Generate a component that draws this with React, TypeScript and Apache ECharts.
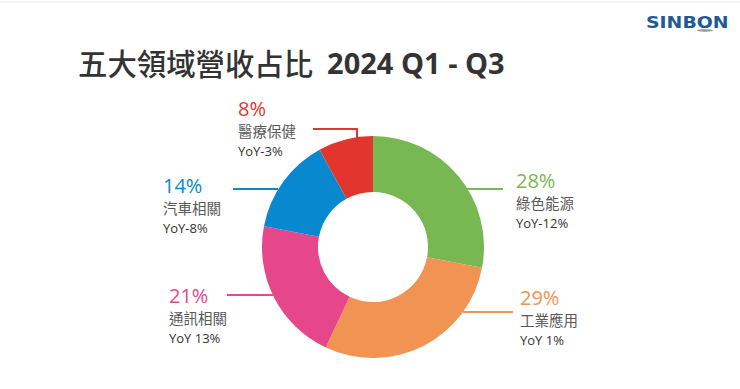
import React, { useEffect, useRef } from "react";
import * as echarts from "echarts";

const categories = ["綠色能源", "工業應用", "通訊相關", "汽車相關", "醫療保健"];
const shares = [28, 29, 21, 14, 8];
const yoyLabels = ["YoY-12%", "YoY 1%", "YoY 13%", "YoY-8%", "YoY-3%"];
const colors = ["#78B853", "#F09353", "#E6478A", "#0888CF", "#E1352D"];

// label block top-left positions and label line points
const labelPos = [
  [516, 168],
  [520, 285],
  [169, 283],
  [163, 173],
  [238, 96],
];
const linePoints = [
  [[467, 189], [503, 189], [503, 189]],
  [[463, 312], [513, 312], [513, 312]],
  [[273, 295], [227, 295], [227, 295]],
  [[278, 189], [233, 189], [233, 189]],
  [[357, 138], [357, 129], [313, 129]],
];

const titleCjk = "五大領域營收占比";
const titleLatin = "2024 Q1 - Q3";
const FONT = "'Open Sans', 'Noto Sans CJK TC', sans-serif";

export default function App() {
  const ref = useRef<HTMLDivElement>(null);
  useEffect(() => {
    if (!ref.current) return;
    const chart = echarts.init(ref.current, null, { renderer: "svg" });
    const data = categories.map((name, i) => ({
      name,
      value: shares[i],
      itemStyle: { color: colors[i] },
      label: {
        rich: {
          pct: { fontSize: 20, color: colors[i], lineHeight: 24, fontFamily: FONT },
          nm: { fontSize: 14.5, color: "#595959", lineHeight: 22, fontFamily: FONT },
          yy: { fontSize: 13, color: "#333333", lineHeight: 18, fontFamily: FONT },
        },
      },
      labelLine: { lineStyle: { color: colors[i], width: 2 } },
    }));
    chart.setOption({
      animation: false,
      backgroundColor: "#ffffff",
      graphic: [
        {
          type: "line",
          shape: { x1: 0, y1: 2, x2: 740, y2: 2 },
          style: { stroke: "#e6e6e6", lineWidth: 1 },
        },
        {
          type: "text",
          x: 78,
          y: 62,
          style: {
            text: `{c|${titleCjk}}{b|${titleLatin}}`,
            verticalAlign: "middle",
            rich: {
              c: { fontSize: 29.4, fontFamily: "'Noto Sans CJK TC', sans-serif", fill: "#333333", fontWeight: 500 },
              b: { fontSize: 29, fontFamily: "'Open Sans', sans-serif", fill: "#333333", fontWeight: "bold", padding: [0, 0, 0, 14] },
            },
          },
        },
        {
          type: "text",
          x: 646,
          y: 23,
          scaleX: 1.18,
          style: {
            text: "SINBON",
            fontSize: 16,
            fontWeight: 900,
            fontFamily: "'DejaVu Sans', sans-serif",
            fill: "#1F5A97",
            verticalAlign: "middle",
          },
        },
        {
          type: "ellipse",
          shape: { cx: 705, cy: 30.5, rx: 8, ry: 1.2 },
          style: { fill: "#9a9a9a" },
        },
      ],
      series: [
        {
          type: "pie",
          center: [373, 247],
          radius: [55, 111],
          startAngle: 90,
          clockwise: true,
          avoidLabelOverlap: false,
          itemStyle: { borderWidth: 0 },
          label: {
            show: true,
            formatter: (p: any) => `{pct|${p.value}%}\n{nm|${p.name}}\n{yy|${yoyLabels[p.dataIndex]}}`,
          },
          labelLine: { show: true, smooth: false },
          labelLayout: (params: any) => {
            const i = params.dataIndex;
            return {
              x: labelPos[i][0],
              y: labelPos[i][1],
              align: "left",
              verticalAlign: "top",
              labelLinePoints: linePoints[i],
            };
          },
          emphasis: { disabled: true },
          data,
        },
      ],
    });
    return () => chart.dispose();
  }, []);
  return (
    <div
      ref={ref}
      style={{ position: "fixed", left: 0, top: 0, width: 740, height: 389 }}
    />
  );
}
